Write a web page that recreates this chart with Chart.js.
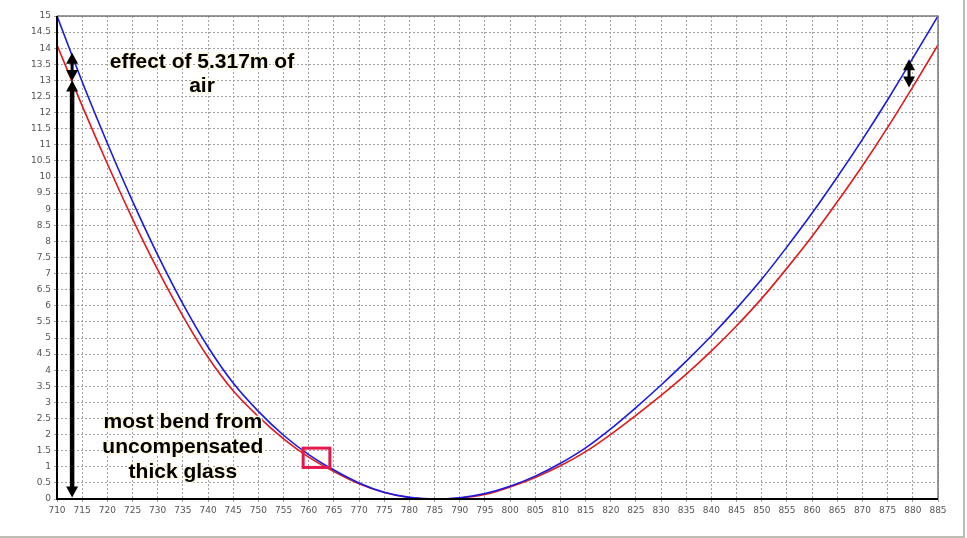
<!DOCTYPE html>
<html>
<head>
<meta charset="utf-8">
<script src="https://cdn.jsdelivr.net/npm/chart.js@4.4.0/dist/chart.umd.min.js"></script>
<style>
  html, body { margin: 0; padding: 0; background: #ffffff; }
  #wrap { width: 967px; height: 538px; position: relative; }
</style>
</head>
<body>
<div id="wrap"><canvas id="c" width="967" height="538"></canvas></div>
<script>
// ---- data ----
const wavelengths = [710, 715, 720, 725, 730, 735, 740, 745, 750, 755, 760, 765, 770, 775, 780, 785, 790, 795, 800, 805, 810, 815, 820, 825, 830, 835, 840, 845, 850, 855, 860, 865, 870, 875, 880, 885];
const blueShift   = [15.0, 12.96, 11.05, 9.25, 7.58, 6.06, 4.72, 3.60, 2.72, 1.98, 1.38, 0.90, 0.50, 0.21, 0.05, 0.0, 0.04, 0.17, 0.395, 0.71, 1.11, 1.59, 2.18, 2.84, 3.54, 4.28, 5.07, 5.92, 6.83, 7.83, 8.88, 10.0, 11.17, 12.4, 13.69, 15.0];
const redShift    = [14.1, 12.21, 10.41, 8.70, 7.12, 5.68, 4.40, 3.36, 2.56, 1.87, 1.30, 0.85, 0.47, 0.20, 0.045, 0.0, 0.03, 0.14, 0.375, 0.67, 1.03, 1.47, 2.01, 2.60, 3.22, 3.88, 4.60, 5.38, 6.23, 7.17, 8.16, 9.23, 10.35, 11.54, 12.80, 14.1];
const xTickRange  = { min: 710, max: 885, step: 5 };
const yTickRange  = { min: 0, max: 15, step: 0.5 };

// annotations (data coordinates)
const airArrowLeft   = { x: 713.0, top: 13.86, bottom: 12.98 };
const airArrowRight  = { x: 879.25, top: 13.66, bottom: 12.78 };
const glassArrow     = { x: 713.0, top: 13.0, bottom: 0.05 };
const highlightBox   = { x1: 758.9, x2: 764.2, y1: 1.58, y2: 0.98 };
const airText        = { x: 738.8, y: 13.56, lines: ["effect of 5.317m of", "air"] };
const glassText      = { x: 735.0, y: 2.38, lines: ["most bend from", "uncompensated", "thick glass"] };

const toPts = (ys) => wavelengths.map((w, i) => ({ x: w, y: ys[i] }));

function vArrow(ctx, x, yTop, yBot, shaft, headW, headL) {
  ctx.save();
  ctx.fillStyle = '#000';
  ctx.fillRect(x - shaft / 2, yTop + headL - 1, shaft, (yBot - yTop) - 2 * headL + 2);
  ctx.beginPath();
  ctx.moveTo(x, yTop); ctx.lineTo(x - headW / 2, yTop + headL); ctx.lineTo(x + headW / 2, yTop + headL); ctx.closePath();
  ctx.fill();
  ctx.beginPath();
  ctx.moveTo(x, yBot); ctx.lineTo(x - headW / 2, yBot - headL); ctx.lineTo(x + headW / 2, yBot - headL); ctx.closePath();
  ctx.fill();
  ctx.restore();
}

const decor = {
  id: 'decor',
  beforeDraw(chart) {
    const { ctx } = chart;
    ctx.save();
    ctx.strokeStyle = '#bdbdb4';
    ctx.lineWidth = 2;
    ctx.beginPath();
    ctx.moveTo(964, 0); ctx.lineTo(964, 537); ctx.lineTo(0, 537);
    ctx.stroke();
    ctx.restore();
  },
  afterDraw(chart) {
    const { ctx, chartArea: a, scales: { x, y } } = chart;
    ctx.save();
    ctx.strokeStyle = '#7a7a7a';
    ctx.lineWidth = 1.5;
    ctx.beginPath();
    ctx.moveTo(a.left, a.top); ctx.lineTo(a.right, a.top); ctx.lineTo(a.right, a.bottom);
    ctx.stroke();
    ctx.strokeStyle = '#000';
    ctx.lineWidth = 2;
    ctx.beginPath();
    ctx.moveTo(a.left, a.top); ctx.lineTo(a.left, a.bottom); ctx.lineTo(a.right, a.bottom);
    ctx.stroke();

    ctx.strokeStyle = '#e5174b';
    ctx.lineWidth = 3;
    const bx1 = x.getPixelForValue(highlightBox.x1), bx2 = x.getPixelForValue(highlightBox.x2);
    const by1 = y.getPixelForValue(highlightBox.y1), by2 = y.getPixelForValue(highlightBox.y2);
    ctx.strokeRect(bx1, by1, bx2 - bx1, by2 - by1);

    vArrow(ctx, x.getPixelForValue(glassArrow.x), y.getPixelForValue(glassArrow.top), y.getPixelForValue(glassArrow.bottom), 4.5, 12, 11);
    vArrow(ctx, x.getPixelForValue(airArrowLeft.x), y.getPixelForValue(airArrowLeft.top), y.getPixelForValue(airArrowLeft.bottom), 3, 12, 11);
    vArrow(ctx, x.getPixelForValue(airArrowRight.x), y.getPixelForValue(airArrowRight.top), y.getPixelForValue(airArrowRight.bottom), 3, 12, 11);

    ctx.font = 'bold 21px "Liberation Sans", Arial, sans-serif';
    ctx.textAlign = 'center';
    ctx.textBaseline = 'middle';
    ctx.lineJoin = 'round';
    const drawBlock = (t, step) => {
      const cx = x.getPixelForValue(t.x);
      const cy = y.getPixelForValue(t.y);
      t.lines.forEach((s, i) => {
        const yy = cy + i * step;
        ctx.strokeStyle = 'rgba(255,250,225,0.95)';
        ctx.lineWidth = 3;
        ctx.strokeText(s, cx, yy);
        ctx.fillStyle = '#000';
        ctx.fillText(s, cx, yy);
      });
    };
    drawBlock(airText, 24);
    drawBlock(glassText, 25);
    ctx.restore();
  }
};

const tickFont = { family: 'Tahoma, "DejaVu Sans", "Liberation Sans", sans-serif', size: 9 };
const fmt = (v) => String(Math.round(v * 10) / 10);

new Chart(document.getElementById('c'), {
  type: 'line',
  data: {
    datasets: [
      { label: 'blue', data: toPts(blueShift), borderColor: '#1a1ae6', borderWidth: 1.6, pointRadius: 0, cubicInterpolationMode: 'monotone', fill: false },
      { label: 'red', data: toPts(redShift), borderColor: '#e01a1a', borderWidth: 1.6, pointRadius: 0, cubicInterpolationMode: 'monotone', fill: false }
    ]
  },
  options: {
    responsive: false,
    animation: false,
    devicePixelRatio: 1,
    layout: { padding: { left: 0, top: 16, right: 29, bottom: 0 } },
    plugins: { legend: { display: false }, tooltip: { enabled: false } },
    scales: {
      x: {
        type: 'linear',
        min: xTickRange.min, max: xTickRange.max,
        afterFit(s) { s.height = 39; },
        ticks: { stepSize: xTickRange.step, autoSkip: false, maxRotation: 0, padding: 3, color: '#555', font: tickFont, callback: fmt },
        grid: { color: '#a0a0a0', lineWidth: 1, tickLength: 3, drawTicks: true },
        border: { display: false, dash: [2, 2] }
      },
      y: {
        type: 'linear',
        min: yTickRange.min, max: yTickRange.max,
        afterFit(s) { s.width = 57; },
        ticks: { stepSize: yTickRange.step, autoSkip: false, padding: 3, color: '#555', font: tickFont, callback: fmt },
        grid: { color: '#a0a0a0', lineWidth: 1, tickLength: 3, drawTicks: true },
        border: { display: false, dash: [2, 2] }
      }
    }
  },
  plugins: [decor]
});
</script>
</body>
</html>
